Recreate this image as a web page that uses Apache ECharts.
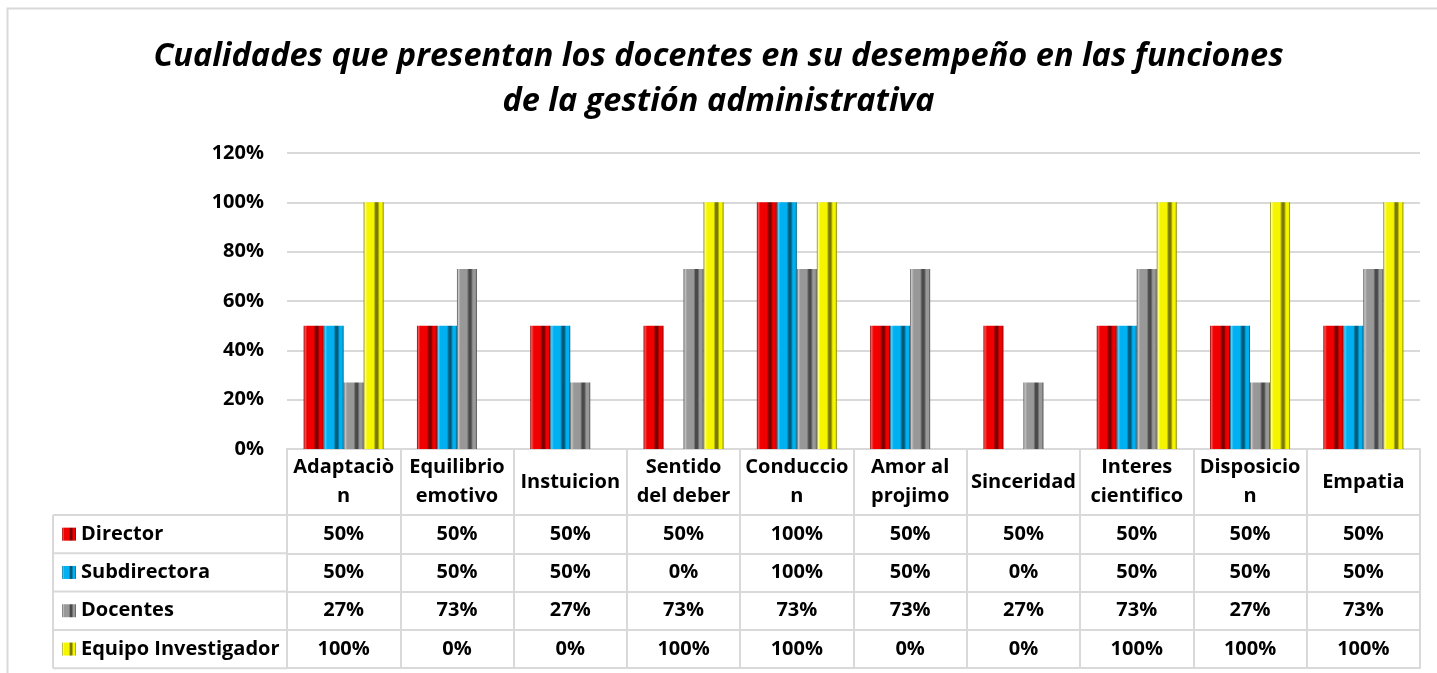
<!DOCTYPE html>
<html>
<head>
<meta charset="utf-8">
<script src="https://cdn.jsdelivr.net/npm/echarts@6/dist/echarts.min.js"></script>
<style>
  html, body { margin: 0; padding: 0; background: #fff; }
  #main { width: 1437px; height: 673px; }
</style>
</head>
<body>
<div id="main"></div>
<script>
// datos
const categories = ['Adaptaciò\nn', 'Equilibrio\nemotivo', 'Instuicion', 'Sentido\ndel deber', 'Conduccio\nn',
  'Amor al\nprojimo', 'Sinceridad', 'Interes\ncientifico', 'Disposicio\nn', 'Empatia'];
const director = [50, 50, 50, 50, 100, 50, 50, 50, 50, 50];
const subdirectora = [50, 50, 50, 0, 100, 50, 0, 50, 50, 50];
const docentes = [27, 73, 27, 73, 73, 73, 27, 73, 27, 73];
const equipo = [100, 0, 0, 100, 100, 0, 0, 100, 100, 100];
const yTicks = [0, 20, 40, 60, 80, 100, 120];

const seriesNames = ['Director', 'Subdirectora', 'Docentes', 'Equipo Investigador'];
const seriesData = [director, subdirectora, docentes, equipo];

const font = 'Open Sans';
const fs = 20;
const lineCol = '#d9d9d9';
const gridBottomY = 449;
const headerH = 66;
const rowH = 38.3;

// efecto bisel de las barras
function bevel(light, base, dark) {
  return {
    type: 'linear', x: 0, y: 0, x2: 1, y2: 0,
    colorStops: [
      { offset: 0, color: dark },
      { offset: 0.07, color: light },
      { offset: 0.18, color: base },
      { offset: 0.5, color: base },
      { offset: 0.6, color: dark },
      { offset: 0.7, color: dark },
      { offset: 0.8, color: base },
      { offset: 0.92, color: base },
      { offset: 1, color: dark }
    ]
  };
}
const colors = [
  bevel('#ff5050', '#f00000', '#7a0000'),
  bevel('#50ccff', '#00b0f0', '#005a7a'),
  bevel('#c8c8c8', '#989898', '#4a4a4a'),
  bevel('#ffff90', '#f5f500', '#7a7a00')
];

const chart = echarts.init(document.getElementById('main'));

// filas de la tabla: un eje x por serie
let xAxes = [{
  type: 'category',
  data: categories,
  position: 'bottom',
  offset: 0,
  axisLine: { show: true, lineStyle: { color: lineCol, width: 2 } },
  axisTick: { show: true, interval: 0, length: headerH, lineStyle: { color: lineCol, width: 2 } },
  axisLabel: {
    interval: 0, margin: headerH / 2, verticalAlign: 'middle',
    color: '#000', fontFamily: font, fontWeight: 'bold', fontSize: fs, lineHeight: 29
  }
}];
seriesData.forEach((arr, i) => {
  xAxes.push({
    type: 'category',
    data: categories,
    position: 'bottom',
    offset: headerH + rowH * i,
    axisLine: { show: true, lineStyle: { color: lineCol, width: 2 } },
    axisTick: { show: true, interval: 0, length: rowH, lineStyle: { color: lineCol, width: 2 } },
    axisLabel: {
      interval: 0, margin: rowH / 2, verticalAlign: 'middle',
      color: '#000', fontFamily: font, fontWeight: 'bold', fontSize: fs,
      formatter: (v, idx) => arr[idx] + '%'
    }
  });
});
xAxes.push({
  type: 'category',
  data: categories,
  position: 'bottom',
  offset: headerH + rowH * 4,
  axisLine: { show: true, lineStyle: { color: lineCol, width: 2 } },
  axisTick: { show: false },
  axisLabel: { show: false }
});

// bordes de la columna de leyenda
let tableGraphics = [];
const legLeft = 53, legRight = 287;
for (let i = 0; i <= 4; i++) {
  const y = gridBottomY + headerH + rowH * i;
  tableGraphics.push({
    type: 'line', silent: true,
    shape: { x1: legLeft, y1: y, x2: legRight, y2: y },
    style: { stroke: lineCol, lineWidth: 2 }
  });
}
tableGraphics.push({
  type: 'line', silent: true,
  shape: { x1: legLeft, y1: gridBottomY + headerH, x2: legLeft, y2: gridBottomY + headerH + rowH * 4 },
  style: { stroke: lineCol, lineWidth: 2 }
});
tableGraphics.push({
  type: 'rect', silent: true, z: -1,
  shape: { x: 7.5, y: 8.5, width: 1450, height: 700 },
  style: { fill: 'none', stroke: lineCol, lineWidth: 2 }
});

const option = {
  backgroundColor: '#fff',
  title: {
    text: 'Cualidades que presentan los docentes en su desempeño en las funciones\nde la gestión administrativa',
    left: 'center',
    top: 29,
    textStyle: {
      fontFamily: font, fontStyle: 'italic', fontWeight: 'bold',
      fontSize: 32.5, lineHeight: 45, color: '#000'
    }
  },
  legend: {
    orient: 'vertical',
    left: 62,
    top: gridBottomY + headerH + (rowH - 22) / 2,
    padding: 0,
    itemGap: rowH - 22,
    itemWidth: 14,
    itemHeight: 13,
    icon: 'rect',
    data: seriesNames,
    textStyle: { fontFamily: font, fontWeight: 'bold', fontSize: fs, lineHeight: 22, color: '#000' }
  },
  grid: { left: 287, right: 17, top: 153, bottom: 673 - gridBottomY },
  xAxis: xAxes,
  yAxis: {
    type: 'value',
    min: yTicks[0],
    max: yTicks[yTicks.length - 1],
    interval: yTicks[1] - yTicks[0],
    axisLine: { show: false },
    axisTick: { show: false },
    splitLine: { lineStyle: { color: lineCol, width: 2 } },
    axisLabel: {
      margin: 23, color: '#000', fontFamily: font, fontWeight: 'bold', fontSize: fs,
      formatter: v => v + '%'
    }
  },
  graphic: tableGraphics,
  series: seriesNames.map((name, i) => ({
    name: name,
    type: 'bar',
    xAxisIndex: 0,
    data: seriesData[i],
    barWidth: 20,
    barGap: '0%',
    itemStyle: { color: colors[i] }
  }))
};

chart.setOption(option);
</script>
</body>
</html>
